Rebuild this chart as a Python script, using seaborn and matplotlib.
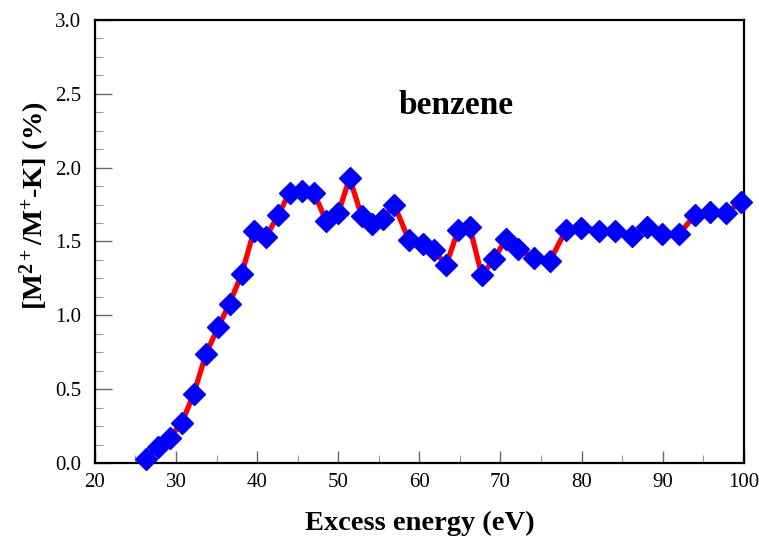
import matplotlib
matplotlib.use("Agg")
import matplotlib.pyplot as plt
import seaborn as sns
import numpy as np
import pandas as pd
from matplotlib.ticker import MultipleLocator

energy = [26.3, 27.8, 29.2, 30.7, 32.2, 33.7, 35.2, 36.6, 38.1, 39.6,
          41.1, 42.6, 44.0, 45.5, 47.0, 48.5, 50.0, 51.4, 52.9, 54.2,
          55.5, 56.9, 58.7, 60.4, 61.8, 63.3, 64.8, 66.2, 67.7, 69.2,
          70.7, 72.2, 74.1, 76.1, 78.1, 79.9, 82.1, 84.1, 86.2, 88.1,
          89.9, 92.0, 94.0, 95.8, 97.8, 99.7]
ratio = [0.03, 0.11, 0.17, 0.27, 0.47, 0.74, 0.92, 1.08, 1.28, 1.57,
         1.53, 1.68, 1.83, 1.84, 1.83, 1.64, 1.69, 1.93, 1.67, 1.62,
         1.65, 1.75, 1.51, 1.48, 1.44, 1.34, 1.58, 1.60, 1.27, 1.38,
         1.52, 1.45, 1.39, 1.37, 1.58, 1.59, 1.57, 1.57, 1.54, 1.60,
         1.55, 1.55, 1.68, 1.70, 1.69, 1.77]

x_ticks = [20, 30, 40, 50, 60, 70, 80, 90, 100]
y_ticks = [0.0, 0.5, 1.0, 1.5, 2.0, 2.5, 3.0]

sns.set_theme(style="white")
plt.rcParams['font.family'] = ['Liberation Serif', 'DejaVu Serif']
plt.rcParams['text.color'] = 'black'
plt.rcParams['axes.labelcolor'] = 'black'
plt.rcParams['xtick.color'] = 'black'
plt.rcParams['ytick.color'] = 'black'
plt.rcParams['mathtext.fontset'] = 'custom'
plt.rcParams['mathtext.rm'] = 'Liberation Serif:bold'
plt.rcParams['mathtext.bf'] = 'Liberation Serif:bold'
plt.rcParams['mathtext.it'] = 'Liberation Serif:bold'

df = pd.DataFrame({"energy": energy, "ratio": ratio})

fig = plt.figure(figsize=(7.59, 5.39), dpi=100)
ax = fig.add_axes([0.125, 0.141, 0.855, 0.822])

sns.lineplot(data=df, x="energy", y="ratio", ax=ax, color="red", linewidth=3.8,
             marker="D", markersize=11.5, markerfacecolor="blue",
             markeredgecolor="blue", markeredgewidth=1, clip_on=False, zorder=5)

ax.set_xlim(20, 100)
ax.set_ylim(0, 3.0)
ax.set_xticks(x_ticks)
ax.set_xticklabels([str(v) for v in x_ticks])
ax.set_yticks(y_ticks)
ax.set_yticklabels([f"{v:.1f}" for v in y_ticks])
ax.xaxis.set_minor_locator(MultipleLocator(5))
ax.yaxis.set_minor_locator(MultipleLocator(0.125))

ax.tick_params(axis="x", which="major", direction="in", length=9, width=1,
               color="#666666", labelsize=15, pad=7)
ax.tick_params(axis="y", which="major", direction="in", length=12, width=1,
               color="#666666", labelsize=15, pad=10)
ax.tick_params(which="minor", direction="in", length=6, width=0.8, color="#999999")
ax.tick_params(which="both", bottom=True, left=True, top=False, right=False)

for s in ax.spines.values():
    s.set_color("black")
    s.set_linewidth(1.6)
    s.set_visible(True)

ax.set_xlabel("Excess energy (eV)", fontsize=20.5, fontweight="bold", labelpad=14)
ax.set_ylabel(r"[M$^{2+}$/M$^{+}$-K] (%)", fontsize=20.5, fontweight="bold")
ax.yaxis.set_label_coords(-0.066, 0.58)

ax.text(64.5, 2.42, "benzene", fontsize=24, fontweight="bold", ha="center",
        va="center", color="black")

fig.savefig("out.png", dpi=100)
